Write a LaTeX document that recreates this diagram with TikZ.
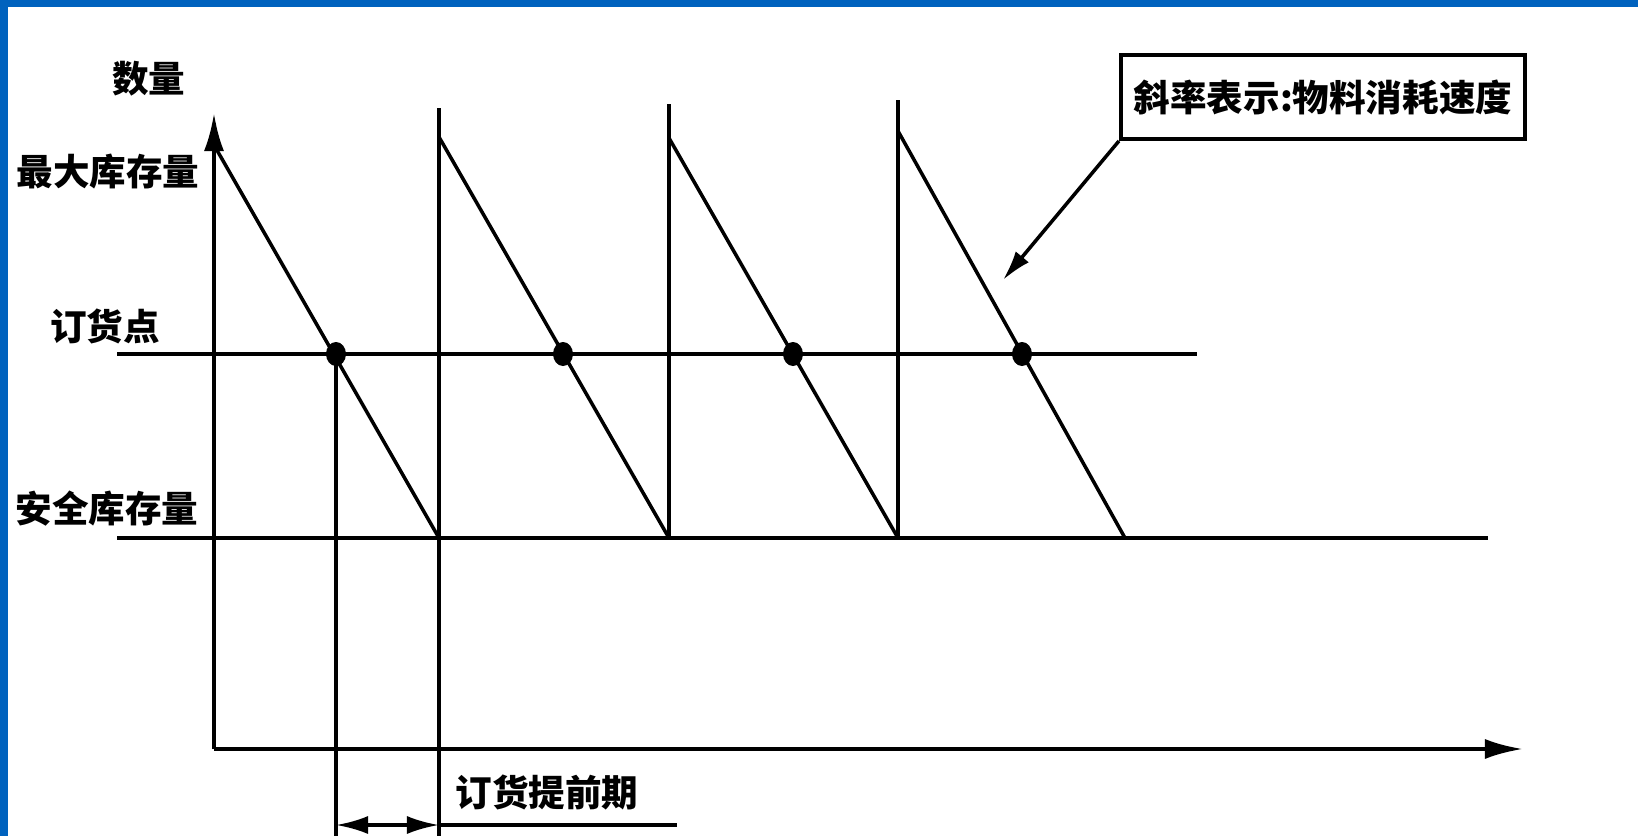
\documentclass[tikz,border=0pt]{standalone}
\usepackage{fontspec}
\newfontfamily\cjk{Noto Sans CJK SC}
\usepackage{tikz}
\usetikzlibrary{arrows.meta,positioning,calc}
\definecolor{bandblue}{RGB}{0,98,190}

\tikzset{
    lbl/.style={font=\cjk\bfseries\fontsize{10.4pt}{12pt}\selectfont, inner sep=0pt},
    callout/.style={lbl, draw, line width=1.1pt, minimum width=4.04cm, minimum height=0.84cm},
    stock/.style={line width=1pt},
    axis/.style={line width=1.2pt, -{Latex[length=3.8mm,width=2mm]}}
}

\begin{document}
\begin{tikzpicture}[x=0.01cm, y=-0.01cm]
    \useasboundingbox (0,0) rectangle (1638,836);
    % Frame
    \fill[bandblue] (0,0) rectangle (1638,7);
    \fill[bandblue] (0,0) rectangle (8,836);

    % Axes
    \coordinate (O) at (214,749);
    \coordinate (ytop) at (214,113);
    \coordinate (xend) at (1523,749);
    \draw[axis] (O) -- (ytop);
    \draw[axis] (O) -- (xend);

    % Labels on the left
    \node[lbl] (qty) at (149,79) {数量};
    \node[lbl] (maxlbl) at (108,172) {最大库存量};
    \node[lbl] (roplbl) at (105,326) {订货点};
    \node[lbl] (sslbl) at (107,509) {安全库存量};

    % Reorder point and safety stock
    \coordinate (rop1) at (117,354); \coordinate (rop2) at (1197,354);
    \coordinate (ss1) at (117,538); \coordinate (ss2) at (1488,538);
    \draw[stock] (rop1) -- (rop2);
    \draw[stock] (ss1) -- (ss2);

    % Sawtooth
    \draw[stock] (214,145) -- (439,538);
    \draw[stock] (439,108) -- (439,836);
    \draw[stock] (439,137) -- (669,538);
    \draw[stock] (669,104) -- (669,538);
    \draw[stock] (669,138) -- (898,538);
    \draw[stock] (898,100) -- (898,538);
    \draw[stock] (898,131) -- (1125,538);

    % Order points
    \foreach \px/\nm in {336/d1, 563/d2, 793/d3, 1022/d4}
        \fill (\px,354) circle[x radius=10, y radius=12] coordinate (\nm);
    \draw[stock] (d1) -- (336,836);

    % Lead time
    \coordinate (lt1) at (336,825);
    \coordinate (lt2) at (439,825);
    \coordinate (lt3) at (677,825);
    \draw[stock, {Latex[length=3.2mm,width=1.8mm]}-{Latex[length=3.2mm,width=1.8mm]}] (lt1) -- (lt2);
    \draw[stock] (lt2) -- (lt3);
    \node[lbl] (ltlbl) at (547,792) {订货提前期};

    % Slope note
    \node[callout] (note) at (1323,97) {斜率表示:物料消耗速度};
    \coordinate (slope) at (1003,280);
    \draw[stock, -{Latex[length=3mm,width=1.7mm]}] (note.south west) -- (slope);
\end{tikzpicture}
\end{document}
